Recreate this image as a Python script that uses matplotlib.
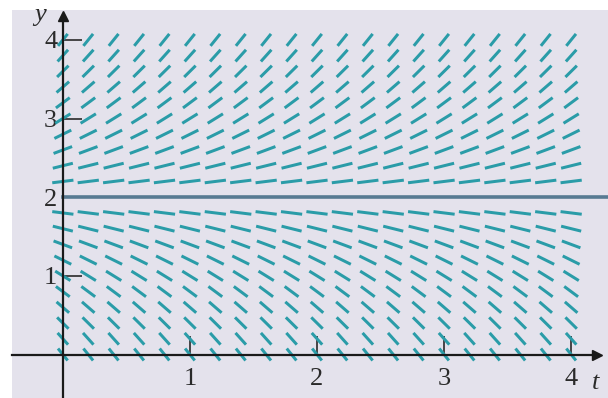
import matplotlib
matplotlib.use("Agg")
import matplotlib.pyplot as plt
import numpy as np

plt.rcParams['font.family'] = 'serif'
plt.rcParams['font.serif'] = ['Liberation Serif', 'DejaVu Serif']

# slope field grid
t_cols = [0.0, 0.2, 0.4, 0.6, 0.8, 1.0, 1.2, 1.4, 1.6, 1.8, 2.0,
          2.2, 2.4, 2.6, 2.8, 3.0, 3.2, 3.4, 3.6, 3.8, 4.0]
y_rows = [0.0, 0.2, 0.4, 0.6, 0.8, 1.0, 1.2, 1.4, 1.6, 1.8,
          2.2, 2.4, 2.6, 2.8, 3.0, 3.2, 3.4, 3.6, 3.8, 4.0]
# slope dy/dt for each row
row_slopes = [-2.0, -1.8, -1.6, -1.4, -1.2, -1.0, -0.8, -0.6, -0.4, -0.2,
              0.2, 0.4, 0.6, 0.8, 1.0, 1.2, 1.4, 1.6, 1.8, 2.0]
# equilibrium solution
eq_y = 2.0
x_ticks = [1, 2, 3, 4]
y_ticks = [1, 2, 3, 4]

seg_len = 0.17

fig = plt.figure(figsize=(6.08, 3.98), dpi=100)
ax = fig.add_axes([12/608, 0, 596/608, 388/398])
ax.set_facecolor('#e4e2ec')
ax.set_xlim(-0.40, 4.29)
ax.set_ylim(-0.553, 4.38)

T, Y = np.meshgrid(t_cols, y_rows)
S = np.repeat(np.array(row_slopes)[:, None], len(t_cols), axis=1)
norm = np.sqrt(1 + S**2)
U = 1 / norm
V = S / norm
ax.quiver(T, Y, U, V, angles='xy', scale_units='xy', scale=1/seg_len,
          pivot='middle', headwidth=0, headlength=0, headaxislength=0,
          units='dots', width=3.0, color='#2a9ca8', zorder=2)

ax.plot([0, 4.29], [eq_y, eq_y], color='#577a92', lw=2.6, zorder=3)

for s in ['top', 'right']:
    ax.spines[s].set_visible(False)
ax.spines['left'].set_position(('data', 0))
ax.spines['bottom'].set_position(('data', 0))
ax.spines['bottom'].set_bounds(-0.40, 4.2)
ax.spines['left'].set_bounds(-0.553, 4.3)
for s in ['left', 'bottom']:
    ax.spines[s].set_linewidth(1.6)
    ax.spines[s].set_color('#1a1a1a')
    ax.spines[s].set_zorder(4)
ax.plot(4.2, 0, '>', color='#1a1a1a', ms=7, clip_on=False, zorder=5)
ax.plot(0, 4.3, '^', color='#1a1a1a', ms=7, clip_on=False, zorder=5)

ax.set_xticks(x_ticks)
ax.set_yticks(y_ticks)
ax.tick_params(axis='x', direction='in', length=14, width=1.2, pad=10,
               labelsize=19, colors='#2a2a2a')
ax.tick_params(axis='y', direction='in', length=14, width=1.2, pad=4,
               labelsize=19, colors='#2a2a2a')

ax.text(4.19, -0.36, 't', style='italic',
        fontsize=19, ha='center', va='center', color='#2a2a2a')
ax.text(-0.18, 4.32, 'y', style='italic',
        fontsize=19, ha='center', va='center', color='#2a2a2a')

fig.savefig('out.png', dpi=100)
